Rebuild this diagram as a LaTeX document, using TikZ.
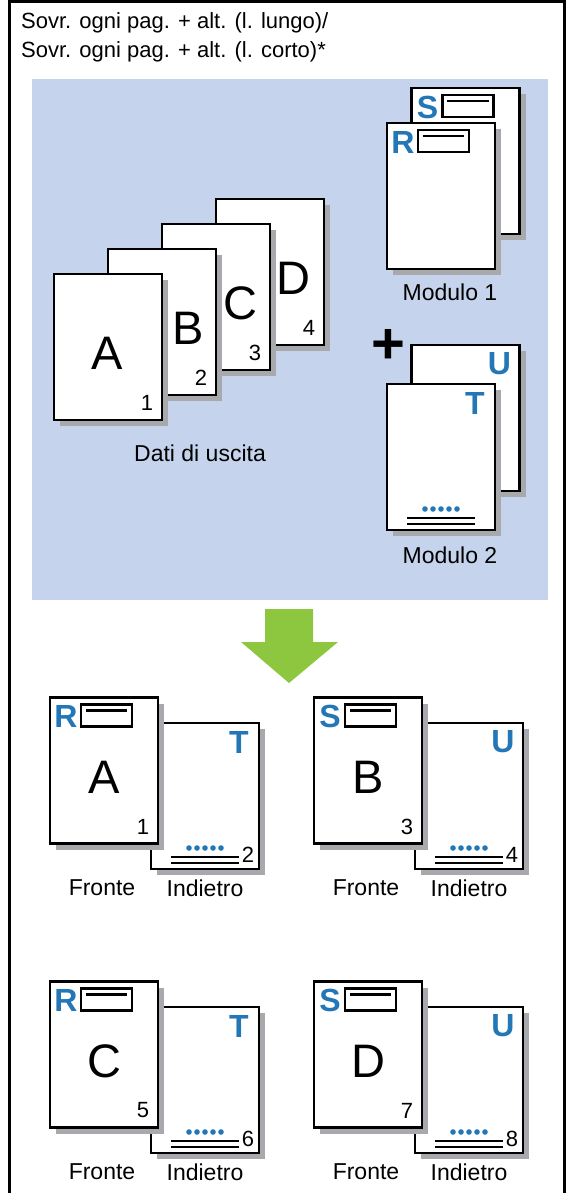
\documentclass[tikz,border=0pt]{standalone}
\usepackage{fontspec}
\setmainfont{Liberation Sans}
\usetikzlibrary{calc,shadows}
\definecolor{bgblue}{RGB}{197,212,236}
\definecolor{letterblue}{RGB}{35,119,183}
\definecolor{shadowgray}{RGB}{167,169,172}
\definecolor{arrowgreen}{RGB}{141,198,63}
\begin{document}
\begin{tikzpicture}[x=1pt,y=-1pt,
  page/.style={draw=black, fill=white, line width=2.6pt, minimum width=108pt, minimum height=146pt,
    inner sep=0pt, outer sep=0pt,
    drop shadow={shadow xshift=6pt, shadow yshift=-6pt, fill=shadowgray, opacity=1}},
  hdr/.style={font=\fontsize{22}{26}\selectfont, inner sep=0pt},
  lbl/.style={font=\fontsize{23}{27}\selectfont, inner sep=0pt},
  num/.style={font=\fontsize{22}{26}\selectfont, inner sep=0pt},
  big/.style={font=\fontsize{47}{50}\selectfont, inner sep=0pt},
  blueletter/.style={font=\fontsize{32}{35}\selectfont\bfseries, text=letterblue, inner sep=0pt},
  formbox/.style={draw=black, fill=white, line width=2.6pt, minimum width=51pt, minimum height=22pt, inner sep=0pt},
  formline/.style={line width=2.8pt},
  rule/.style={line width=2.2pt},
  dot/.style={fill=letterblue},
  frame/.style={line width=3pt}
]
\useasboundingbox (0,0) rectangle (566,1193);
% frame
\coordinate (fbl) at (9.5,1193);
\coordinate (ftl) at (9.5,1.5);
\coordinate (ftr) at (564.5,1.5);
\coordinate (fbr) at (564.5,1193);
\draw[frame] (fbl) -- (ftl) -- (ftr) -- (fbr);
% header
\node[hdr, anchor=base west] (h1) at (21,29) {Sovr. ogni pag. + alt. (l. lungo)/};
\node[hdr, anchor=base west] (h2) at (21,58) {Sovr. ogni pag. + alt. (l. corto)*};
% blue panel
\fill[bgblue] (32,79) rectangle (548,600);

% macros
\newcommand\formL[2]{%
  \node[blueletter] (#1-l) at ($(#1.north west)+(16,19)$) {#2};
  \node[formbox] (#1-b) at ($(#1.north west)+(56.5,18)$) {};
  \draw[formline] ($(#1-b.west)+(6,-5)$) -- ($(#1-b.east)+(-6,-5)$);
}
\newcommand\formR[2]{%
  \node[blueletter] (#1-l) at ($(#1.north east)+(-20,19)$) {#2};
  \foreach \i in {0,...,4} \fill[dot] ($(#1.south west)+(38+8*\i,-21)$) circle (2.8pt);
  \draw[rule] ($(#1.south west)+(20,-12)$) -- ($(#1.south west)+(88,-12)$);
  \draw[rule] ($(#1.south west)+(20,-6)$) -- ($(#1.south west)+(88,-6)$);
}

% stack of output pages
\node[page] (pD) at (270,272) {};
\node[page] (pC) at (216,297) {};
\node[page] (pB) at (162,322) {};
\node[page] (pA) at (108,347) {};
\node[big] (lD) at ($(pD.north west)+(77,79)$) {D};
\node[big] (lC) at ($(pC.north west)+(78,79)$) {C};
\node[big] (lB) at ($(pB.north west)+(80,79)$) {B};
\node[big] (lA) at ($(pA.north west)+(53,79)$) {A};
\node[num] (nD) at ($(pD.south east)+(-15,-17)$) {4};
\node[num] (nC) at ($(pC.south east)+(-15,-17)$) {3};
\node[num] (nB) at ($(pB.south east)+(-15,-17)$) {2};
\node[num] (nA) at ($(pA.south east)+(-15,-17)$) {1};
\node[lbl] (dati) at (200,453) {Dati di uscita};

% plus
\node[font=\fontsize{58}{60}\selectfont\bfseries, inner sep=0pt] (plus) at (388,346) {+};

% Modulo 1
\node[page] (mS) at (465.5,161) {};
\formL{mS}{S}
\node[page] (mR) at (441,196) {};
\formL{mR}{R}
\node[lbl] (mod1) at (450,292) {Modulo 1};

% Modulo 2
\node[page] (mU) at (465.5,418) {};
\node[blueletter] (mU-l) at ($(mU.north east)+(-20,19)$) {U};
\node[page] (mT) at (441,457) {};
\formR{mT}{T}
\node[lbl] (mod2) at (450,555) {Modulo 2};

% arrow
\coordinate (a1) at (265,609);
\coordinate (a2) at (313,609);
\coordinate (a3) at (313,642);
\coordinate (a4) at (338,642);
\coordinate (a5) at (289,683);
\coordinate (a6) at (241,642);
\coordinate (a7) at (265,642);
\fill[arrowgreen] (a1) -- (a2) -- (a3) -- (a4) -- (a5) -- (a6) -- (a7) -- cycle;

% result pairs
\newcommand\pair[9]{%
  \node[page] (#1b) at ($(#2,#3)+(101,25.5)$) {};
  \formR{#1b}{#7}
  \node[num] (#1bn) at ($(#1b.south east)+(-11,-14)$) {#8};
  \node[page] (#1f) at (#2,#3) {};
  \formL{#1f}{#4}
  \node[big] (#1fl) at ($(#1f.north west)+(54,80)$) {#5};
  \node[num] (#1fn) at ($(#1f.south east)+(-15,-17)$) {#6};
  \node[lbl] (#1fx) at ($(#1f.south)+(-2,44)$) {Fronte};
  \node[lbl] (#1bx) at ($(#1b.south)+(0,19)$) {Indietro};
}
\pair{p1}{104}{770.5}{R}{A}{1}{T}{2}{}
\pair{p2}{368}{770.5}{S}{B}{3}{U}{4}{}
\pair{p3}{104}{1054.5}{R}{C}{5}{T}{6}{}
\pair{p4}{368}{1054.5}{S}{D}{7}{U}{8}{}
\end{tikzpicture}
\end{document}
